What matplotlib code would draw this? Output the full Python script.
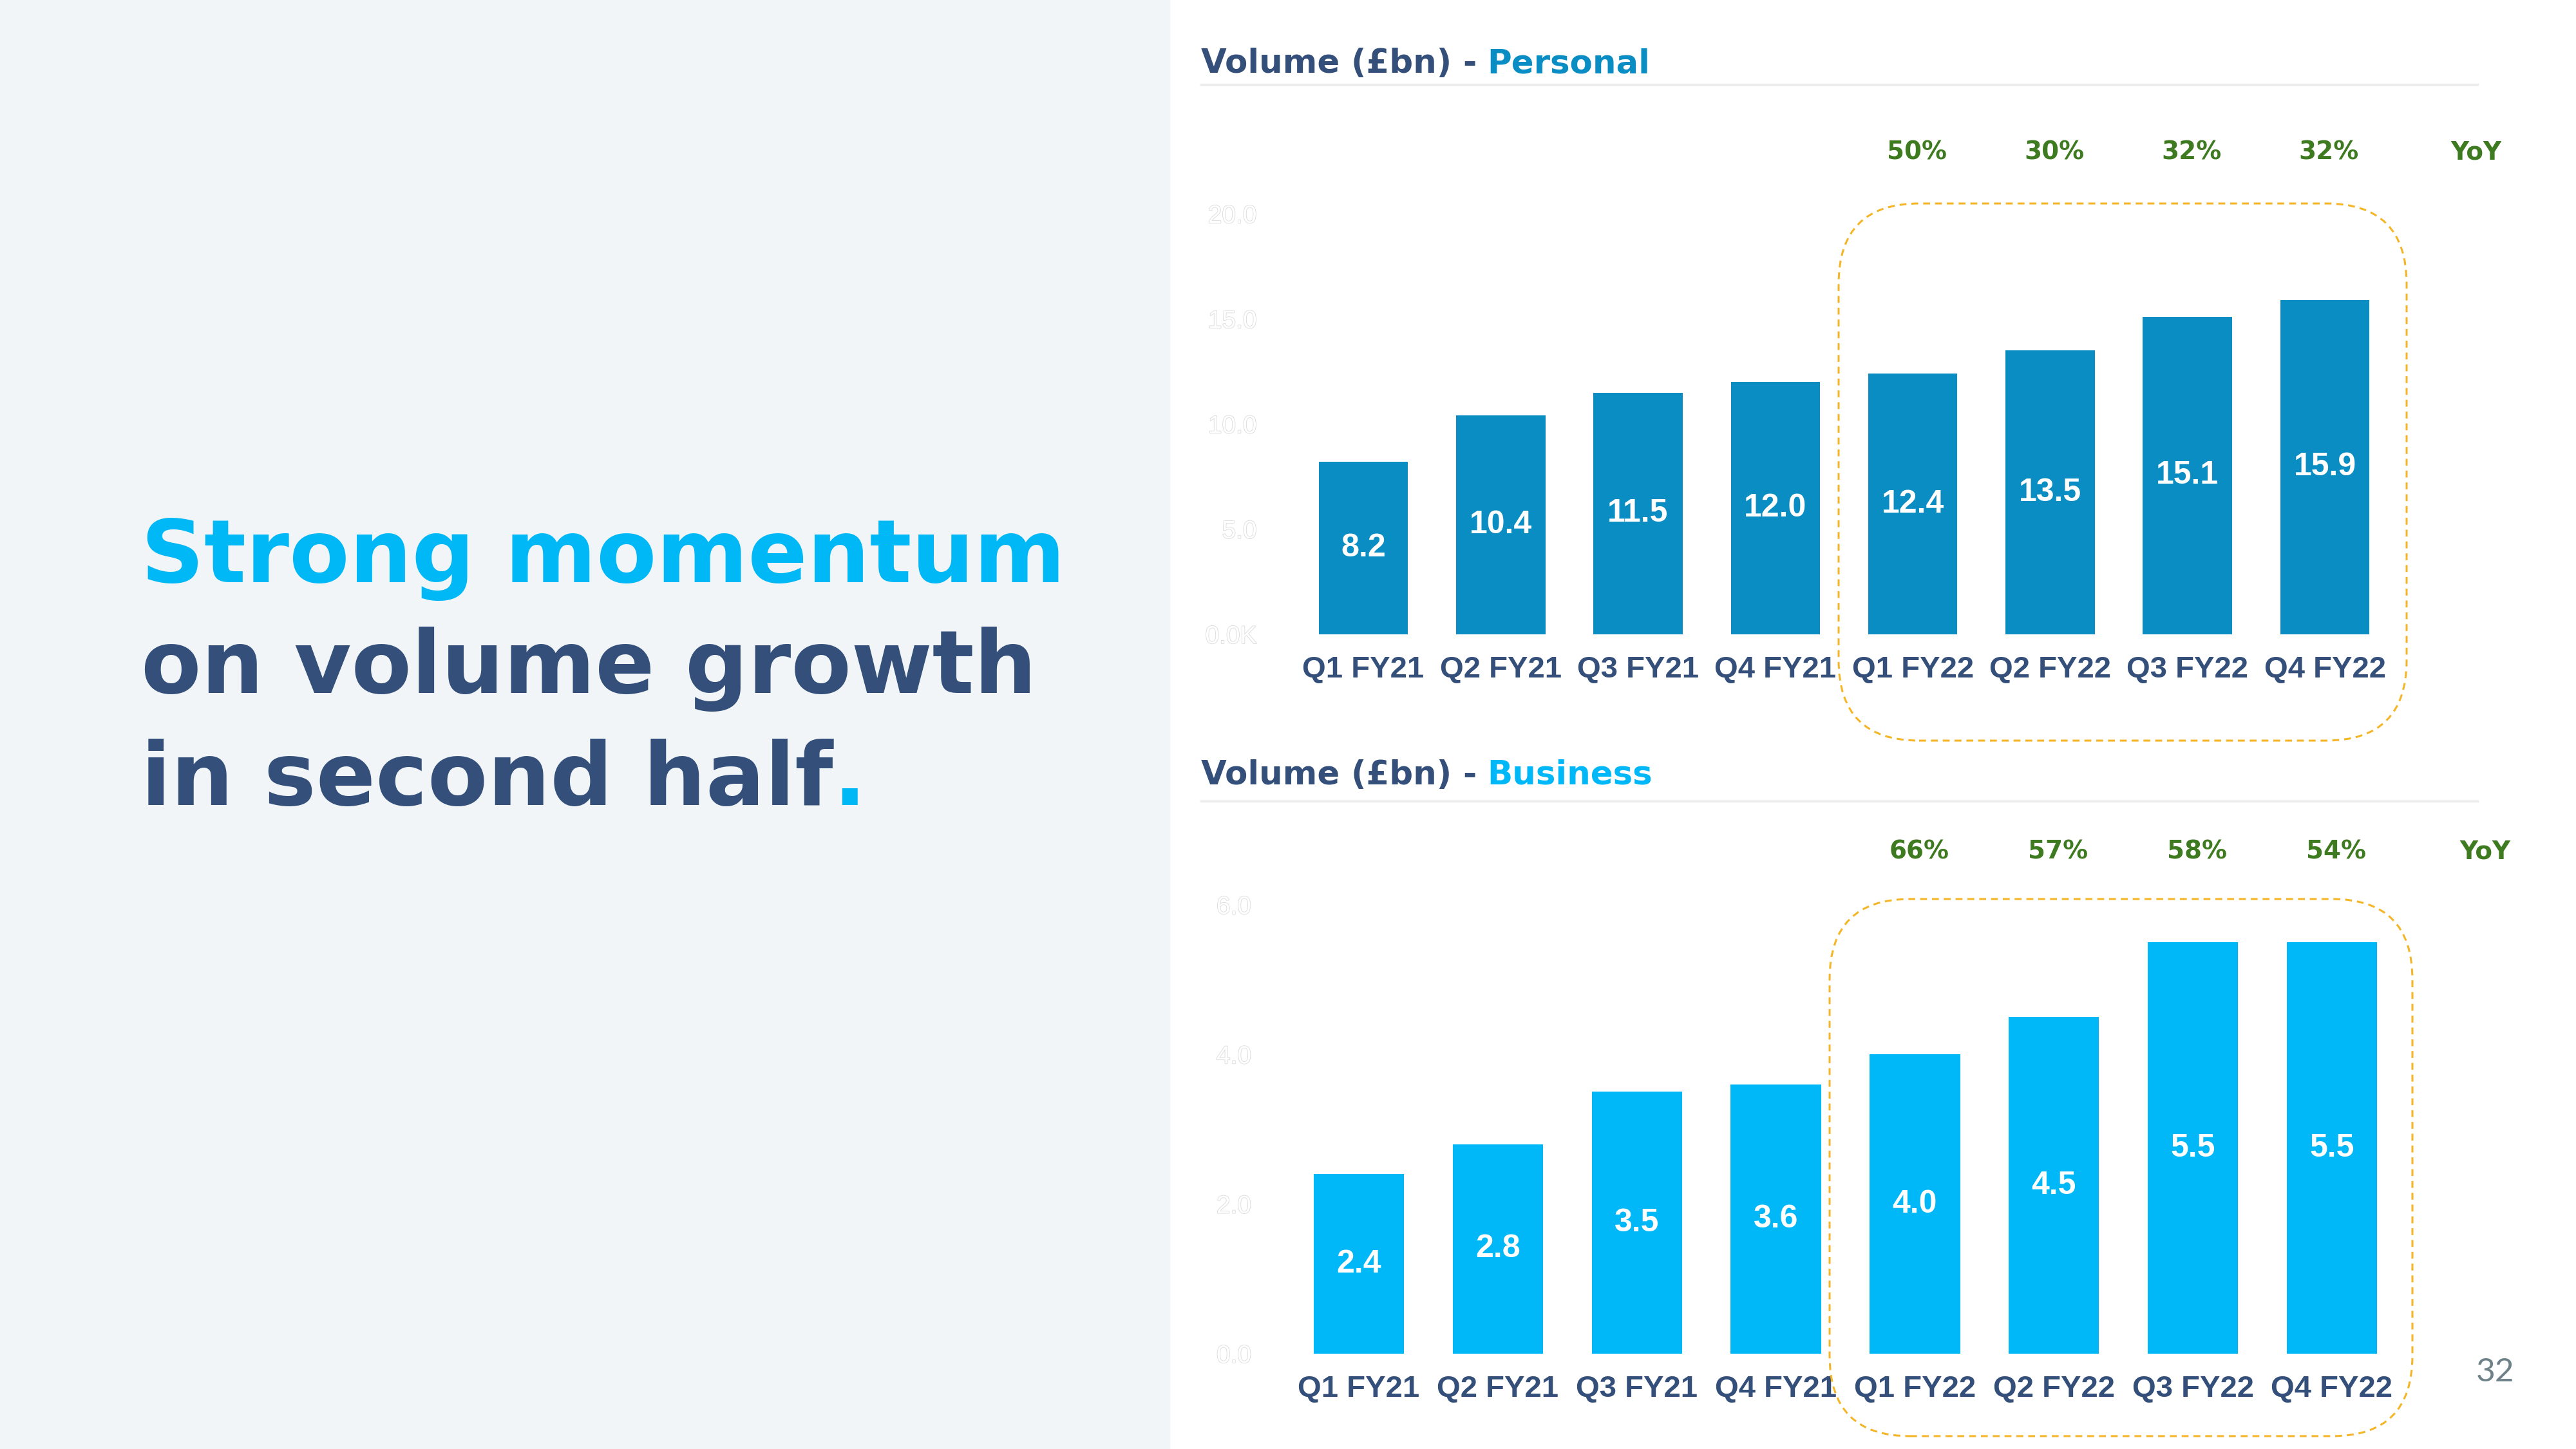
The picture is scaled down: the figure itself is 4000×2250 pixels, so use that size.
import numpy as np
import matplotlib.pyplot as plt
import matplotlib.patheffects as pe
from matplotlib.patches import Rectangle, FancyBboxPatch

# data
quarters = ["Q1 FY21", "Q2 FY21", "Q3 FY21", "Q4 FY21",
            "Q1 FY22", "Q2 FY22", "Q3 FY22", "Q4 FY22"]
personal = [8.2, 10.4, 11.5, 12.0, 12.4, 13.5, 15.1, 15.9]
business = [2.4, 2.8, 3.5, 3.6, 4.0, 4.5, 5.5, 5.5]
personal_yoy = ["50%", "30%", "32%", "32%"]
business_yoy = ["66%", "57%", "58%", "54%"]
personal_ticks = [0, 5, 10, 15, 20]
personal_ticklabels = ["0.0K", "5.0", "10.0", "15.0", "20.0"]
business_ticks = [0, 2, 4, 6]
business_ticklabels = ["0.0", "2.0", "4.0", "6.0"]

NAVY = "#34507A"
BLUE = "#0A8DC3"
CYAN = "#00B7F7"
GREEN = "#3E7A1F"
GOLD = "#F4B526"

W, H = 4000, 2250
fig = plt.figure(figsize=(W / 100, H / 100), dpi=100)
fig.patch.set_facecolor("white")


def fx(px):
    return px / W


def fy(py):
    return 1 - py / H


# left panel
fig.add_artist(Rectangle((0, 0), fx(1816), 1, transform=fig.transFigure,
                         color="#F1F5F8", zorder=0))

head = dict(fontsize=98, fontweight="bold", family="DejaVu Sans", va="baseline")
fig.text(fx(219), fy(904), "Strong momentum", color="#00B8F6", **head)
fig.text(fx(219), fy(1076), "on volume growth", color=NAVY, **head)
t3 = fig.text(fx(219), fy(1250), "in second half", color=NAVY, **head)
renderer = fig.canvas.get_renderer()
x_end = t3.get_window_extent(renderer).x1
fig.text(fx(x_end), fy(1250), ".", color="#00B8F6", **head)


def title(y_base, second, color):
    kw = dict(fontsize=37, fontweight="bold", family="DejaVu Sans", va="baseline")
    t = fig.text(fx(1865), fy(y_base), "Volume (£bn) -", color=NAVY, **kw)
    x1 = t.get_window_extent(renderer).x1
    fig.text(fx(x1 + 16), fy(y_base), second, color=color, **kw)


def underline(y):
    fig.add_artist(plt.Line2D([fx(1865), fx(3847)], [fy(y), fy(y)],
                              transform=fig.transFigure, color="#EBEBEB", lw=2.5))


def bar_chart(rect, values, color, ticks, ticklabels, ymax, yoy, yoy_y):
    ax = fig.add_axes(rect)
    x = np.arange(len(quarters))
    ax.bar(x, values, width=0.65, color=color, zorder=2)
    for xi, v in zip(x, values):
        ax.text(xi, v / 2, "{:.1f}".format(v), ha="center", va="center",
                color="white", fontsize=36, fontweight="bold",
                family="Liberation Sans", zorder=3)
    ax.set_xlim(-0.6, 7.6)
    ax.set_ylim(0, ymax)
    ax.set_xticks(x, quarters)
    ax.set_yticks(ticks, ticklabels)
    ax.tick_params(axis="x", length=0, pad=24, labelsize=34, labelcolor=NAVY)
    ax.tick_params(axis="y", length=0, pad=27, labelsize=28, labelcolor="white")
    for lbl in ax.get_xticklabels():
        lbl.set_fontweight("bold")
        lbl.set_family("Liberation Sans")
    for lbl in ax.get_yticklabels():
        lbl.set_family("Liberation Sans")
        lbl.set_path_effects([pe.withStroke(linewidth=1.2, foreground="#DADADA")])
    for s in ax.spines.values():
        s.set_visible(False)
    ax.patch.set_alpha(0)
    # year-on-year growth above FY22 bars
    tr = ax.get_xaxis_transform()
    for xi, lab in zip(x[4:], yoy):
        ax.text(xi + 0.03, yoy_y, lab, transform=tr, ha="center", va="center",
                color=GREEN, fontsize=28, fontweight="bold", family="DejaVu Sans")
    ax.text(8.1, yoy_y, "YoY", transform=tr, ha="center", va="center",
            color=GREEN, fontsize=28, fontweight="bold", family="DejaVu Sans")
    return ax


# Personal
title(113, "Personal", BLUE)
underline(131)
bar_chart([fx(1989), fy(985), fx(1749), (985 - 332) / H], personal, BLUE,
          personal_ticks, personal_ticklabels, 20, personal_yoy, 1.147)

# Business
title(1218, "Business", CYAN)
underline(1244)
bar_chart([fx(1980.5), fy(2102), fx(1770), (2102 - 1405) / H], business, CYAN,
          business_ticks, business_ticklabels, 6, business_yoy, 1.119)

# dashed highlight boxes around FY22 (inches from bottom-left)
for x0, x1, y0, y1 in [(28.55, 37.37, 11.0, 19.34), (28.41, 37.46, 0.20, 8.54)]:
    box = FancyBboxPatch((x0, y0), x1 - x0, y1 - y0,
                         boxstyle="round,pad=0,rounding_size=1.25",
                         transform=fig.dpi_scale_trans, fill=False,
                         edgecolor=GOLD, lw=2.2, linestyle=(0, (3.5, 2.5)), zorder=5)
    fig.add_artist(box)

# page number
fig.text(fx(3845), fy(2145), "32", color="#6E8189", fontsize=37,
         family="Lato", fontweight="normal", va="baseline")

fig.savefig("out.png", dpi=100, facecolor="white")
